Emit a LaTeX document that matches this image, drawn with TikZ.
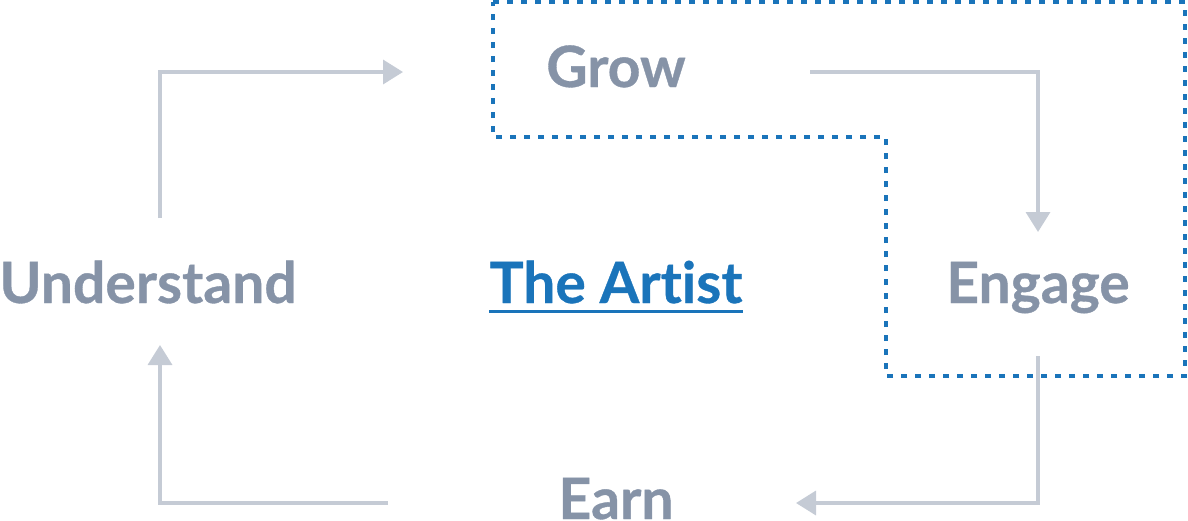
\documentclass[tikz,border=0pt]{standalone}
\usepackage{fontspec}
\setmainfont{Lato}[UprightFont=* Bold,Ligatures={NoCommon,NoRequired},FakeBold=0.6]
\usetikzlibrary{arrows.meta}
\definecolor{labelgray}{HTML}{8693A7}
\definecolor{arrowgray}{HTML}{C5CBD5}
\definecolor{artistblue}{HTML}{1A74BA}
\begin{document}
\begin{tikzpicture}[x=1pt,y=-1pt,
  label/.style={inner sep=0pt,anchor=base,text=labelgray,font=\fontsize{57}{60}\selectfont},
  flow/.style={draw=arrowgray,line width=3.5pt,line join=miter,-{Triangle[length=20pt,width=24pt]}},
  focus/.style={draw=artistblue,line width=3.5pt,dash pattern=on 6pt off 8pt}]
\useasboundingbox (0,0) rectangle (1188,520);
\node[label] (grow) at (616,87) {Grow};
\node[label] (engage) at (1038,303) {Engage};
\node[label] (earn) at (616,519) {Earn};
\node[label] (understand) at (148,303) {Understand};
\node[label,text=artistblue] (artist) at (616,303) {The Artist};
\draw[artistblue,line width=3pt] ([yshift=-8pt]artist.base west) -- ([yshift=-8pt]artist.base east);
\coordinate (a1s) at (160,218); \coordinate (a1e) at (403,72);
\coordinate (a2s) at (810,72);  \coordinate (a2e) at (1038,232);
\coordinate (a3s) at (1038,356); \coordinate (a3e) at (796,503);
\coordinate (a4s) at (388,503); \coordinate (a4e) at (160,345);
\draw[flow] (a1s) |- (a1e);
\draw[flow] (a2s) -| (a2e);
\draw[flow] (a3s) |- (a3e);
\draw[flow] (a4s) -| (a4e);
\coordinate (d1) at (493,2); \coordinate (d2) at (1185,2);
\coordinate (d3) at (1185,376); \coordinate (d4) at (886,376);
\coordinate (d5) at (886,137); \coordinate (d6) at (493,137);
\draw[focus] (d1) -- (d2) -- (d3) -- (d4) -- (d5) -- (d6) -- cycle;
\end{tikzpicture}
\end{document}
